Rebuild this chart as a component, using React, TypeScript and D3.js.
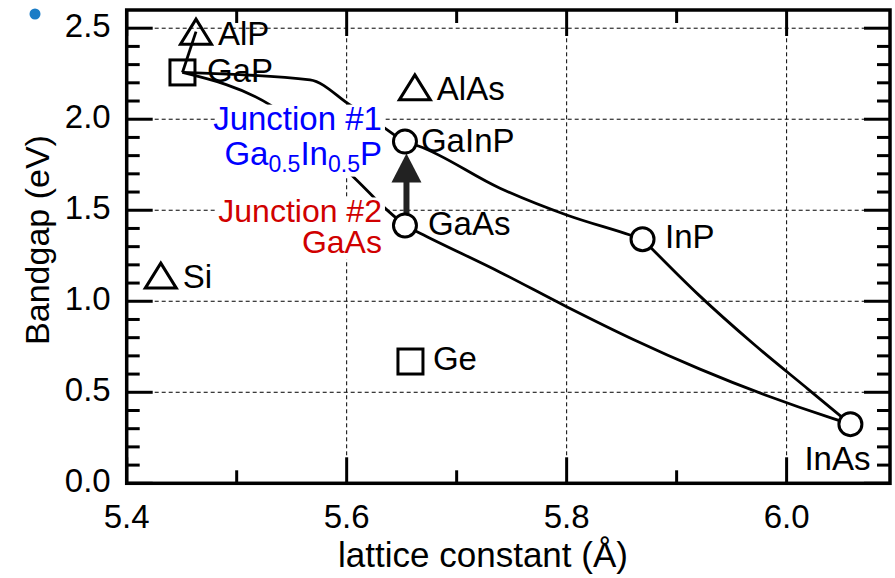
import React from 'react';
import * as d3 from 'd3';

const W = 895;
const H = 578;
const M = { left: 126.7, right: 5, top: 10, bottom: 94.7 };

const xDomain = [5.4, 6.094];
const yDomain = [0, 2.6];
const xMajorTicks = [5.4, 5.6, 5.8, 6.0];
const xMinorTicks = [5.5, 5.7, 5.9];
const yMajorTicks = [0, 0.5, 1.0, 1.5, 2.0, 2.5];
const yMinorTicks = [0.1, 0.2, 0.3, 0.4, 0.6, 0.7, 0.8, 0.9, 1.1, 1.2, 1.3, 1.4, 1.6, 1.7, 1.8, 1.9, 2.1, 2.2, 2.3, 2.4];
const xGrid = [5.6, 5.8, 6.0];
const yGrid = [0.5, 1.0, 1.5, 2.0, 2.5];

// circle markers
const circleNames = ['GaInP', 'GaAs', 'InP', 'InAs'];
const circleX = [5.653, 5.653, 5.869, 6.058];
const circleY = [1.877, 1.4165, 1.341, 0.325];
// square markers
const squareNames = ['GaP', 'Ge'];
const squareX = [5.4507, 5.658];
const squareY = [2.257, 0.669];
// triangle markers
const triNames = ['AlP', 'AlAs', 'Si'];
const triX = [5.463, 5.662, 5.431];
const triY = [2.481, 2.175, 1.141];

// alloy curves
const alpGapX = [5.4507, 5.463];
const alpGapY = [2.257, 2.481];
const gainpX = [5.4507, 5.5667, 5.603, 5.633, 5.653, 5.6652, 5.7394, 5.8, 5.8576, 5.869];
const gainpY = [2.257, 2.216, 2.078, 1.958, 1.877, 1.853, 1.621, 1.474, 1.364, 1.341];
const gaaspX = [5.4507, 5.5303, 5.6106, 5.6333, 5.653];
const gaaspY = [2.257, 2.079, 1.657, 1.52, 1.4165];
const ingaasX = [5.653, 5.6667, 5.7394, 5.8, 5.8606, 5.9212, 5.9818, 6.0424, 6.058];
const ingaasY = [1.4165, 1.374, 1.16, 0.97, 0.79, 0.627, 0.482, 0.355, 0.325];
const inaspX = [5.869, 5.92, 5.97, 6.02, 6.058];
const inaspY = [1.341, 1.035, 0.765, 0.515, 0.325];

const xTitle = 'lattice constant (Å)';
const yTitle = 'Bandgap (eV)';

// label offsets (px) relative to marker centers
const labelOffsets: Record<string, [number, number, string]> = {
  GaInP: [16, 10, 'start'],
  GaAs: [23, 9.5, 'start'],
  InP: [22.5, 9, 'start'],
  InAs: [-13, 46, 'middle'],
  GaP: [24.5, 9.5, 'start'],
  Ge: [22.5, 8.5, 'start'],
  AlP: [22, 13, 'start'],
  AlAs: [22, 12.5, 'start'],
  Si: [22, 12, 'start'],
};

const FONT = '"Liberation Sans", Arial, Helvetica, sans-serif';

export default function App() {
  const x = d3.scaleLinear().domain(xDomain).range([M.left, W - M.right]);
  const y = d3.scaleLinear().domain(yDomain).range([H - M.bottom, M.top]);
  const x0 = M.left, x1 = W - M.right, y0 = H - M.bottom, y1 = M.top;

  const line = d3.line<[number, number]>().x(d => x(d[0])).y(d => y(d[1])).curve(d3.curveMonotoneX);
  const lin = d3.line<[number, number]>().x(d => x(d[0])).y(d => y(d[1]));
  const zip = (a: number[], b: number[]) => a.map((v, i) => [v, b[i]] as [number, number]);

  const majorLen = 26, minorLen = 13;
  const tickW = 3;
  const curveW = 2.8;

  const labels: { name: string; px: number; py: number }[] = [];
  circleNames.forEach((n, i) => labels.push({ name: n, px: x(circleX[i]), py: y(circleY[i]) }));
  squareNames.forEach((n, i) => labels.push({ name: n, px: x(squareX[i]), py: y(squareY[i]) }));
  triNames.forEach((n, i) => labels.push({ name: n, px: x(triX[i]), py: y(triY[i]) }));

  const gaAsIdx = circleNames.indexOf('GaAs');
  const gainpIdx = circleNames.indexOf('GaInP');
  const ax = x(circleX[gaAsIdx]) + 1.5;
  const aBottom = y(circleY[gaAsIdx]) - 12;
  const aTip = y(circleY[gainpIdx]) + 12;
  const headLen = 29, headHalf = 15;

  const j1x = x(circleX[gainpIdx]) - 23;
  const j1y = y(circleY[gainpIdx]);
  const j2y = y(circleY[gaAsIdx]);

  const R = 11.5;
  const S = 25;
  const triW = 31, triH = 25;

  return (
    <svg width={W} height={H} style={{ position: 'absolute', left: 0, top: 0, background: '#fff' }} fontFamily={FONT}>
      <rect x={0} y={0} width={W} height={H} fill="#fff" />
      <circle cx={35} cy={14} r={5.5} fill="#1a7cc6" />
      {/* grid */}
      {xGrid.map(v => (
        <line key={'gx' + v} x1={x(v)} x2={x(v)} y1={y0} y2={y1} stroke="#000" strokeWidth={1} strokeDasharray="4,3" />
      ))}
      {yGrid.map(v => (
        <line key={'gy' + v} x1={x0} x2={x1} y1={y(v)} y2={y(v)} stroke="#000" strokeWidth={1} strokeDasharray="4,3" />
      ))}
      {/* ticks */}
      {xMajorTicks.concat(xMinorTicks).map(v => {
        const len = xMajorTicks.includes(v) ? majorLen : minorLen;
        return (
          <g key={'xt' + v}>
            <line x1={x(v)} x2={x(v)} y1={y0} y2={y0 - len} stroke="#000" strokeWidth={tickW} />
            <line x1={x(v)} x2={x(v)} y1={y1} y2={y1 + len} stroke="#000" strokeWidth={tickW} />
          </g>
        );
      })}
      {yMajorTicks.concat(yMinorTicks).map(v => {
        const len = yMajorTicks.includes(v) ? majorLen : minorLen;
        return (
          <g key={'yt' + v}>
            <line x1={x0} x2={x0 + len} y1={y(v)} y2={y(v)} stroke="#000" strokeWidth={tickW} />
            <line x1={x1} x2={x1 - len} y1={y(v)} y2={y(v)} stroke="#000" strokeWidth={tickW} />
          </g>
        );
      })}
      <rect x={x0} y={y1} width={x1 - x0} height={y0 - y1} fill="none" stroke="#000" strokeWidth={3.5} />
      {/* tick labels */}
      {xMajorTicks.map(v => (
        <text key={'xl' + v} x={x(v)} y={y0 + 45} textAnchor="middle" fontSize={33}>{v.toFixed(1)}</text>
      ))}
      {yMajorTicks.map(v => (
        <text key={'yl' + v} x={x0 - 16} y={y(v) + 9} textAnchor="end" fontSize={33}>{v.toFixed(1)}</text>
      ))}
      <text x={483} y={567} textAnchor="middle" fontSize={35}>{xTitle}</text>
      <text transform={`translate(49, 240) rotate(-90)`} textAnchor="middle" fontSize={34}>{yTitle}</text>
      {/* point labels */}
      {labels.map(l => {
        const o = labelOffsets[l.name];
        return (
          <text key={'lb' + l.name} x={l.px + o[0]} y={l.py + o[1]} textAnchor={o[2] as any} fontSize={33}>{l.name}</text>
        );
      })}
      {/* curves */}
      <path d={lin(zip(alpGapX, alpGapY)) || ''} fill="none" stroke="#000" strokeWidth={curveW} />
      <path d={line(zip(gainpX, gainpY)) || ''} fill="none" stroke="#000" strokeWidth={curveW} />
      <path d={line(zip(gaaspX, gaaspY)) || ''} fill="none" stroke="#000" strokeWidth={curveW} />
      <path d={line(zip(ingaasX, ingaasY)) || ''} fill="none" stroke="#000" strokeWidth={curveW} />
      <path d={line(zip(inaspX, inaspY)) || ''} fill="none" stroke="#000" strokeWidth={curveW} />
      {/* arrow */}
      <line x1={ax} x2={ax} y1={aBottom} y2={aTip + headLen - 1} stroke="#222" strokeWidth={6} />
      <path d={`M${ax},${aTip} L${ax - headHalf},${aTip + headLen} L${ax + headHalf},${aTip + headLen} Z`} fill="#222" />
      {/* markers */}
      {squareNames.map((n, i) => (
        <rect key={'sq' + n} x={x(squareX[i]) - S / 2} y={y(squareY[i]) - S / 2} width={S} height={S} fill="none" stroke="#000" strokeWidth={3} />
      ))}
      {triNames.map((n, i) => {
        const cx = x(triX[i]), cy = y(triY[i]);
        return (
          <path key={'tr' + n} d={`M${cx},${cy - triH / 2} L${cx + triW / 2},${cy + triH / 2} L${cx - triW / 2},${cy + triH / 2} Z`} fill="none" stroke="#000" strokeWidth={3} strokeLinejoin="miter" />
        );
      })}
      {circleNames.map((n, i) => (
        <circle key={'c' + n} cx={x(circleX[i])} cy={y(circleY[i])} r={R} fill="#fff" stroke="#000" strokeWidth={3} />
      ))}
      {/* junction annotations */}
      <rect x={215} y={j1y - 37} width={j1x - 215 + 3} height={72} fill="#fff" />
      <rect x={215} y={j2y - 28} width={j1x - 215 + 3} height={62} fill="#fff" />
      <text x={j1x} y={j1y - 11.5} textAnchor="end" fontSize={33} fill="#0000ff">Junction #1</text>
      <text x={j1x} y={j1y + 23} textAnchor="end" fontSize={33} fill="#0000ff">
        Ga<tspan fontSize={23} dy={7}>0.5</tspan><tspan dy={-7}>In</tspan><tspan fontSize={23} dy={7}>0.5</tspan><tspan dy={-7}>P</tspan>
      </text>
      <text x={j1x} y={j2y - 3.5} textAnchor="end" fontSize={32} fill="#d00000">Junction #2</text>
      <text x={j1x} y={j2y + 28} textAnchor="end" fontSize={32} fill="#d00000">GaAs</text>
    </svg>
  );
}
